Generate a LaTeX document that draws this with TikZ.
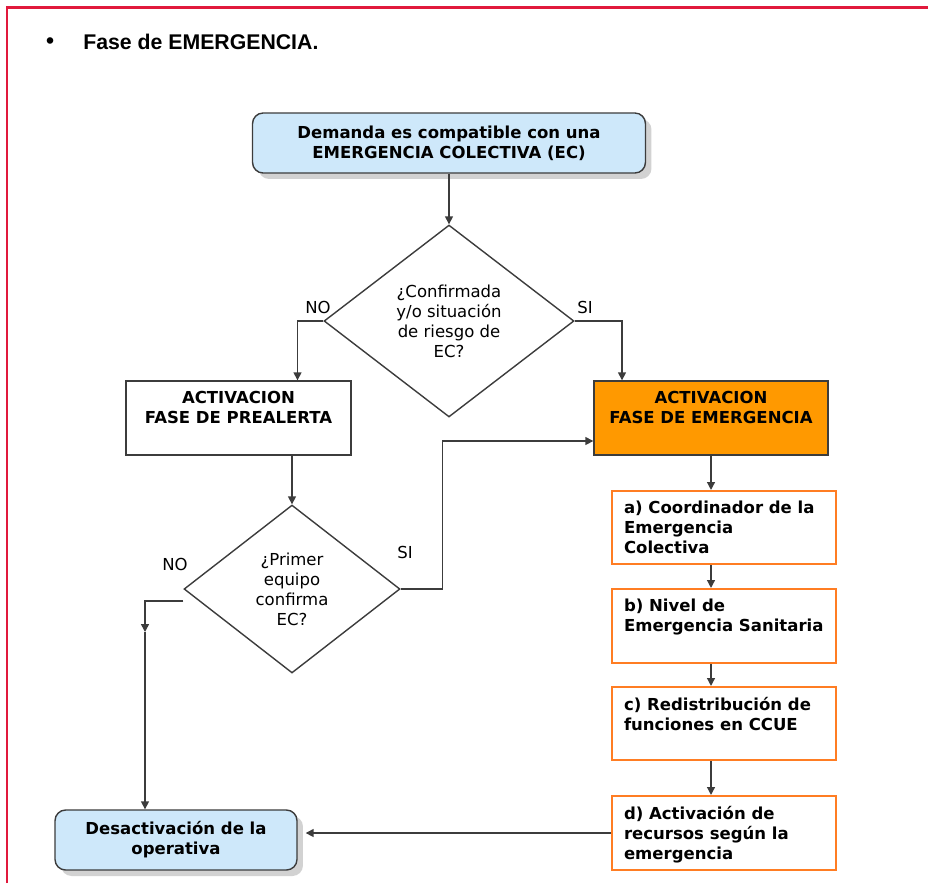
\documentclass[tikz,border=0pt]{standalone}
\usepackage{fontspec}
\setmainfont{DejaVu Sans}
\newfontfamily\arialfont{Liberation Sans}
\usepackage{tikz}
\usetikzlibrary{arrows.meta, positioning, shapes.geometric, calc, shadows}

\definecolor{framered}{RGB}{225,25,60}
\definecolor{boxblue}{RGB}{206,232,250}
\definecolor{emerorange}{RGB}{255,153,0}
\definecolor{steporange}{RGB}{255,125,35}
\definecolor{linegray}{RGB}{60,60,60}

\newcommand\boxfont{\fontsize{9.4}{11.4}\selectfont\bfseries}
\newcommand\askfont{\fontsize{9.4}{11.4}\selectfont}

\tikzset{
  flow/.style={draw=linegray, line width=0.8pt, -{Triangle[length=4.5pt,width=4.5pt]}},
  roundbox/.style={draw=linegray, line width=0.8pt, fill=boxblue, rounded corners=6pt,
    align=center, font=\boxfont,
    drop shadow={shadow xshift=0.12cm, shadow yshift=-0.12cm, fill=black!35}},
  phasebox/.style={draw=linegray, line width=0.8pt, inner sep=0pt, font=\boxfont},
  question/.style={draw=linegray, line width=0.8pt, diamond, inner sep=0pt,
    align=center, font=\askfont},
  stepbox/.style={draw=steporange, line width=1.2pt, inner sep=0pt, font=\boxfont},
  answer/.style={font=\askfont}
}

\begin{document}
\begin{tikzpicture}[x=0.02cm, y=-0.02cm]
  \useasboundingbox (0,0) rectangle (928,883);

  % Frame and heading
  \draw[framered, line width=0.06cm] (7,883) -- (7,7) -- (928,7);
  \node (bullet) at (50,43) {\arialfont\fontsize{13}{15}\selectfont\bfseries •};
  \node[anchor=west, inner sep=0pt] (title) at (83,42)
    {\arialfont\fontsize{12.1}{14}\selectfont\bfseries Fase de EMERGENCIA.};

  % Start and end boxes
  \node[roundbox, minimum width=7.86cm, minimum height=1.2cm] (demand) at (449,143)
    {Demanda es compatible con una\\EMERGENCIA COLECTIVA (EC)};
  \node[roundbox, minimum width=4.84cm, minimum height=1.2cm] (deact) at (176,840)
    {Desactivación de la\\operativa};

  % Questions
  \node[question, minimum width=5cm, minimum height=3.84cm] (ask1) at (449,321)
    {¿Confirmada\\y/o situación\\de riesgo de\\EC?};
  \node[question, minimum width=4.32cm, minimum height=3.36cm] (ask2) at (292,589)
    {¿Primer\\equipo\\confirma\\EC?};

  % Phases
  \node[phasebox, fill=white] (prealert) at (238.5,418)
    {\parbox[c][1.48cm][t]{4.5cm}{\centering\vspace{0.2cm}ACTIVACION\\FASE DE PREALERTA}};
  \node[phasebox, fill=emerorange] (emerg) at (711,418)
    {\parbox[c][1.48cm][t]{4.68cm}{\centering\vspace{0.2cm}ACTIVACION\\FASE DE EMERGENCIA}};

  % Steps of the emergency phase
  \node[stepbox] (stepA) at (724,527.5)
    {\parbox[c][1.46cm][t]{4.48cm}{\raggedright\leftskip=0.24cm\vspace{0.2cm}a) Coordinador de la\\Emergencia\\Colectiva}};
  \node[stepbox] (stepB) at (724,626)
    {\parbox[c][1.48cm][t]{4.48cm}{\raggedright\leftskip=0.24cm\vspace{0.2cm}b) Nivel de\\Emergencia Sanitaria}};
  \node[stepbox] (stepC) at (724,723.5)
    {\parbox[c][1.46cm][t]{4.48cm}{\raggedright\leftskip=0.24cm\vspace{0.2cm}c) Redistribución de\\funciones en CCUE}};
  \node[stepbox] (stepD) at (724,833)
    {\parbox[c][1.48cm][t]{4.48cm}{\raggedright\leftskip=0.24cm\vspace{0.2cm}d) Activación de\\recursos según la\\emergencia}};

  % Answer labels
  \node[answer] (no1) at (318,307) {NO};
  \node[answer] (si1) at (585,307) {SI};
  \node[answer] (no2) at (175,564) {NO};
  \node[answer] (si2) at (405,552) {SI};

  % Connectors
  \coordinate (noturn) at ($(ask2.west)+(0,12)$);
  \coordinate (nomid) at (145,632);
  \draw[flow] (demand.south) -- (ask1.north);
  \draw[flow] (ask1.west) -| ($(prealert.north)+(59,0)$);
  \draw[flow] (ask1.east) -| ($(emerg.north)+(-89,0)$);
  \draw[flow] (prealert.south -| ask2.north) -- (ask2.north);
  \draw[flow] (ask2.east) -- ++(42,0) |- ($(emerg.west)+(0,23)$);
  \draw[flow] (noturn) -| (nomid);
  \draw[flow] (nomid) -- (deact.north -| nomid);
  \draw[flow] (emerg.south) -- (stepA.north -| emerg.south);
  \draw[flow] (stepA.south -| emerg.south) -- (stepB.north -| emerg.south);
  \draw[flow] (stepB.south -| emerg.south) -- (stepC.north -| emerg.south);
  \draw[flow] (stepC.south -| emerg.south) -- (stepD.north -| emerg.south);
  \draw[flow, shorten >=0.16cm] (stepD.west) -- (stepD.west -| deact.east);
\end{tikzpicture}
\end{document}
